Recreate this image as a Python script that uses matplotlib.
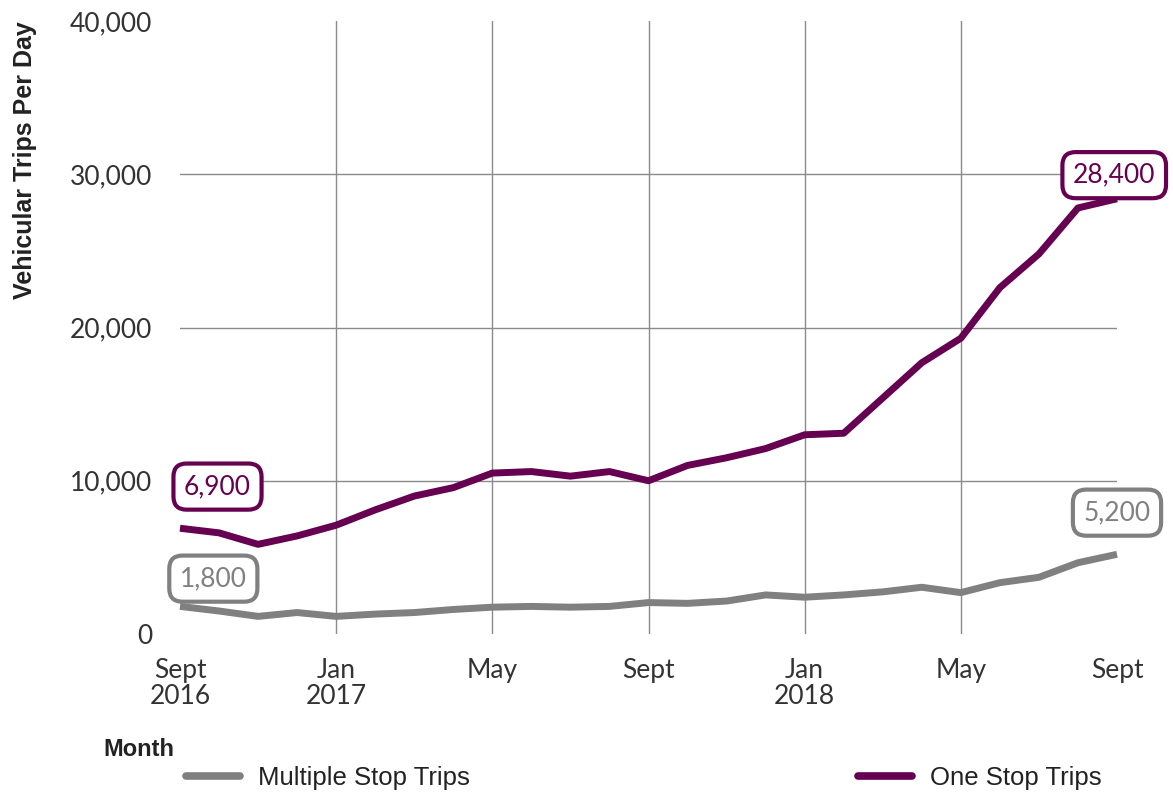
import matplotlib
matplotlib.use("Agg")
import matplotlib.pyplot as plt
from matplotlib.lines import Line2D

plt.rcParams['font.family'] = ['Lato', 'DejaVu Sans']

# monthly averages, Sept 2016 - Sept 2018
months = ['Sep 2016', 'Oct 2016', 'Nov 2016', 'Dec 2016', 'Jan 2017', 'Feb 2017',
          'Mar 2017', 'Apr 2017', 'May 2017', 'Jun 2017', 'Jul 2017', 'Aug 2017',
          'Sep 2017', 'Oct 2017', 'Nov 2017', 'Dec 2017', 'Jan 2018', 'Feb 2018',
          'Mar 2018', 'Apr 2018', 'May 2018', 'Jun 2018', 'Jul 2018', 'Aug 2018',
          'Sep 2018']
one_stop = [6900, 6600, 5850, 6400, 7100, 8100, 9000, 9550, 10500, 10600, 10300,
            10600, 10000, 11000, 11500, 12100, 13000, 13100, 15400, 17700, 19300,
            22600, 24800, 27800, 28400]
multi_stop = [1800, 1500, 1150, 1400, 1150, 1300, 1400, 1600, 1750, 1800, 1750,
              1800, 2050, 2000, 2150, 2550, 2400, 2550, 2750, 3050, 2700, 3350,
              3700, 4650, 5200]
tick_pos = [0, 4, 8, 12, 16, 20, 24]
tick_labels = ['Sept\n2016', 'Jan\n2017', 'May', 'Sept', 'Jan\n2018', 'May', 'Sept']

purple = '#660050'
grey = '#808080'
narrow = ['Liberation Sans Narrow', 'Liberation Sans', 'DejaVu Sans']

fig = plt.figure(figsize=(11.73, 7.95), dpi=100)
ax = fig.add_axes([180 / 1173, 1 - 634 / 795, (1117 - 180) / 1173, (634 - 21) / 795])

x = list(range(len(months)))
ax.plot(x, multi_stop, color=grey, lw=5, solid_capstyle='butt', clip_on=False, zorder=3)
ax.plot(x, one_stop, color=purple, lw=5, solid_capstyle='butt', clip_on=False, zorder=3)

ax.set_xlim(0, 24)
ax.set_ylim(0, 40000)
ax.set_xticks(tick_pos)
ax.set_xticklabels(tick_labels, fontsize=19, color='#333333', linespacing=1.05)
ax.set_yticks([0, 10000, 20000, 30000, 40000])
ax.set_yticklabels(['0', '10,000', '20,000', '30,000', '40,000'], fontsize=19, color='#333333')
ax.tick_params(axis='both', length=0)
ax.tick_params(axis='x', pad=17)
ax.tick_params(axis='y', pad=20)
for s in ax.spines.values():
    s.set_visible(False)

# inner gridlines only
for xv in tick_pos[1:-1]:
    ax.axvline(xv, color='#8a8a8a', lw=1, zorder=1)
for yv in [10000, 20000, 30000]:
    ax.axhline(yv, color='#8a8a8a', lw=1, zorder=1)

ax.set_ylabel('Vehicular Trips Per Day', fontsize=18, fontweight='bold',
              family=['Liberation Sans', 'DejaVu Sans'], color='#222222')
ax.yaxis.set_label_coords(-0.153, 0.773)


def label(i, series, color, dx, dy):
    ax.annotate(f'{series[i]:,}', (i, series[i]), xytext=(dx, dy),
                textcoords='offset points', ha='center', va='center',
                fontsize=19, color=color, zorder=5,
                bbox=dict(boxstyle='round,pad=0.4,rounding_size=0.5',
                          fc='white', ec=color, lw=3))


label(0, one_stop, purple, 27, 30)
label(0, multi_stop, grey, 24, 20)
label(24, one_stop, purple, -2, 17)
label(24, multi_stop, grey, 0, 30)

fig.text(103 / 1173, 1 - 749 / 795, 'Month', fontsize=17, fontweight='bold',
         family=narrow, va='center', ha='left', color='#222222')

leg_font = dict(family=narrow, size=18.5)
legend_items = [(grey, 'Multiple Stop Trips', 186), (purple, 'One Stop Trips', 858)]
for color, text, xpx in legend_items:
    h = Line2D([], [], color=color, lw=5.5, solid_capstyle='round')
    leg = fig.legend([h], [text], loc='center left',
                     bbox_to_anchor=(xpx / 1173, 1 - 778 / 795), frameon=False,
                     borderpad=0, borderaxespad=0,
                     handlelength=2.1, handletextpad=0.7, prop=leg_font,
                     labelcolor='#222222')

fig.savefig('out.png', dpi=100)
